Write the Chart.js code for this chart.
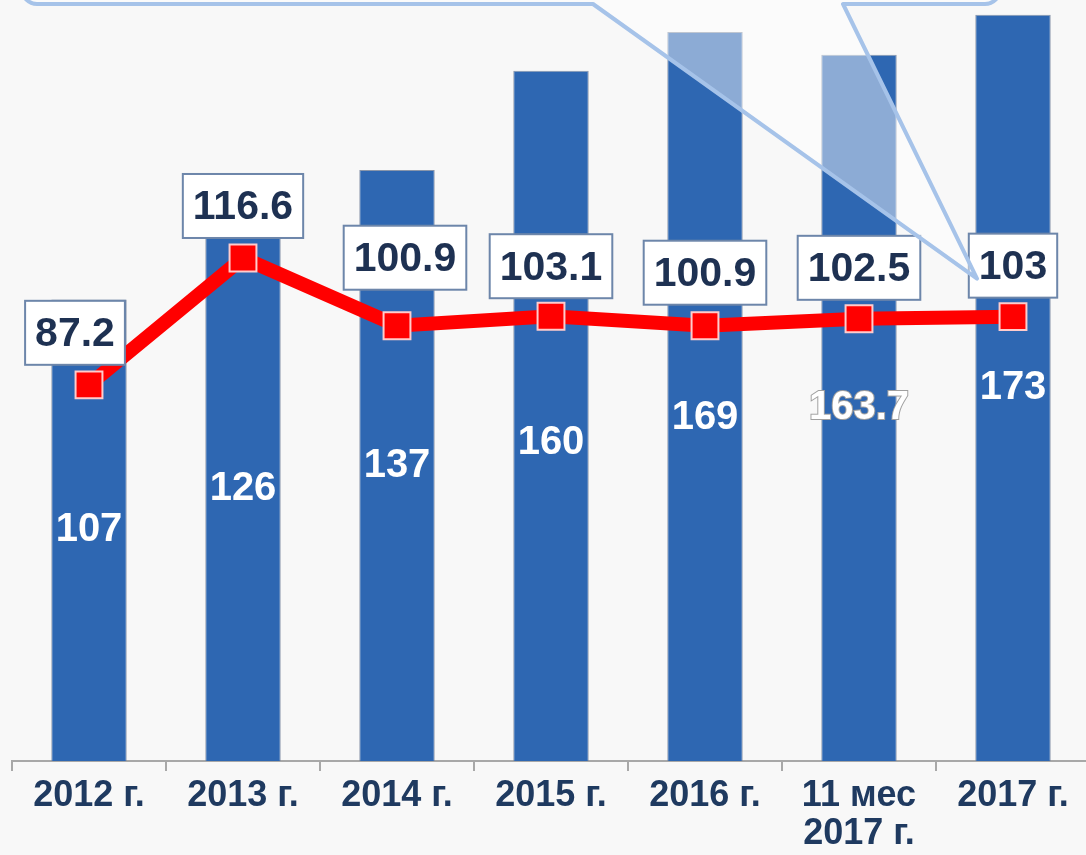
<!DOCTYPE html>
<html>
<head>
<meta charset="utf-8">
<script src="https://cdn.jsdelivr.net/npm/chart.js@4.4.1/dist/chart.umd.min.js"></script>
<style>
  html, body { margin: 0; padding: 0; background: #f8f8f8; overflow: hidden; }
  #wrap { position: relative; width: 1092px; height: 855px; }
</style>
</head>
<body>
<div id="wrap"><canvas id="chart"></canvas></div>
<script>
const categories = ['2012 г.', '2013 г.', '2014 г.', '2015 г.', '2016 г.', ['11 мес', '2017 г.'], '2017 г.'];
const barValues = [107, 126, 137, 160, 169, 163.7, 173];
const indexValues = [87.2, 116.6, 100.9, 103.1, 100.9, 102.5, 103];
const barLabels = ['107', '126', '137', '160', '169', '163.7', '173'];
const indexLabels = ['87.2', '116.6', '100.9', '103.1', '100.9', '102.5', '103'];

const FONT = '"Liberation Sans", Arial, sans-serif';

// label placement tweaks (pixels)
const barLabelNudge = [0, 0, 0, 27, 22, 0, 0];
const boxNudgeX = [-14, 0, 8, 0, 0, 0, 0];
const boxNudgeY = [-52, -52, -68, -50, -53, -51, -51];

const labelPlugin = {
  id: 'valueLabels',
  afterDatasetsDraw(chart) {
    const ctx = chart.ctx;
    const y = chart.scales.y;
    const bars = chart.getDatasetMeta(1).data;
    const pts = chart.getDatasetMeta(0).data;
    ctx.save();
    ctx.textAlign = 'center';
    ctx.textBaseline = 'middle';

    // white numbers inside bars
    ctx.font = 'bold 40px ' + FONT;
    bars.forEach((bar, i) => {
      const ly = y.getPixelForValue(barValues[i] / 2) + barLabelNudge[i];
      if (i === 5) {
        ctx.lineWidth = 2;
        ctx.strokeStyle = '#a0a0a0';
        ctx.strokeText(barLabels[i], bar.x, ly);
      }
      ctx.fillStyle = '#ffffff';
      ctx.fillText(barLabels[i], bar.x, ly);
    });

    // boxed index labels over the line
    ctx.font = 'bold 41px ' + FONT;
    pts.forEach((p, i) => {
      const txt = indexLabels[i];
      const w = ctx.measureText(txt).width + 20;
      const h = 64;
      const cx = p.x + boxNudgeX[i];
      const cy = p.y + boxNudgeY[i];
      ctx.fillStyle = '#ffffff';
      ctx.fillRect(cx - w / 2, cy - h / 2, w, h);
      ctx.lineWidth = 2;
      ctx.strokeStyle = '#6d86aa';
      ctx.strokeRect(cx - w / 2, cy - h / 2, w, h);
      ctx.fillStyle = '#1e3152';
      ctx.fillText(txt, cx, cy + 2);
    });
    ctx.restore();
  }
};

// callout shape at the top pointing to the last label
const calloutPlugin = {
  id: 'callout',
  afterDraw(chart) {
    const ctx = chart.ctx;
    const last = chart.getDatasetMeta(0).data[indexValues.length - 1];
    const tipX = last.x - 36, tipY = last.y - 38;
    const left = 22, right = 1000, bottom = 4, r = 15;
    ctx.save();
    ctx.beginPath();
    ctx.moveTo(left, -40);
    ctx.lineTo(left, bottom - r);
    ctx.arcTo(left, bottom, left + r, bottom, r);
    ctx.lineTo(593, bottom);
    ctx.lineTo(tipX, tipY);
    ctx.lineTo(843, bottom);
    ctx.lineTo(right - r, bottom);
    ctx.arcTo(right, bottom, right, bottom - r, r);
    ctx.lineTo(right, -40);
    ctx.closePath();
    ctx.fillStyle = 'rgba(255,255,255,0.45)';
    ctx.fill();
    ctx.lineWidth = 4;
    ctx.lineJoin = 'round';
    ctx.strokeStyle = '#a6c3e9';
    ctx.stroke();
    ctx.restore();
  }
};

new Chart(document.getElementById('chart'), {
  type: 'bar',
  data: {
    labels: categories,
    datasets: [
      {
        type: 'line',
        data: indexValues,
        order: 0,
        borderColor: '#ff0000',
        borderWidth: 14,
        tension: 0,
        pointStyle: 'rect',
        pointRadius: 19,
        pointBackgroundColor: '#ff0000',
        pointBorderColor: '#ffcccc',
        pointBorderWidth: 2
      },
      {
        type: 'bar',
        data: barValues,
        order: 1,
        backgroundColor: '#2e67b2',
        borderColor: 'rgba(110,125,150,0.8)',
        borderWidth: 1,
        categoryPercentage: 1,
        barPercentage: 0.49
      }
    ]
  },
  options: {
    responsive: true,
    maintainAspectRatio: false,
    animation: false,
    layout: { autoPadding: false, padding: { left: 12, right: 2, top: 0, bottom: 0 } },
    plugins: { legend: { display: false }, tooltip: { enabled: false } },
    scales: {
      y: { display: false, min: 0, max: 176.4 },
      x: {
        afterFit(scale) { scale.height = 94; },
        border: { display: true, color: '#a8a8a8', width: 2 },
        grid: {
          offset: true,
          drawOnChartArea: false,
          drawTicks: true,
          tickLength: 10,
          color: '#a8a8a8',
          lineWidth: 2
        },
        ticks: {
          color: '#1f3a60',
          padding: 6,
          maxRotation: 0,
          autoSkip: false,
          font: { family: FONT, size: 36, weight: 'bold', lineHeight: 1.05 }
        }
      }
    }
  },
  plugins: [labelPlugin, calloutPlugin]
});
</script>
</body>
</html>
